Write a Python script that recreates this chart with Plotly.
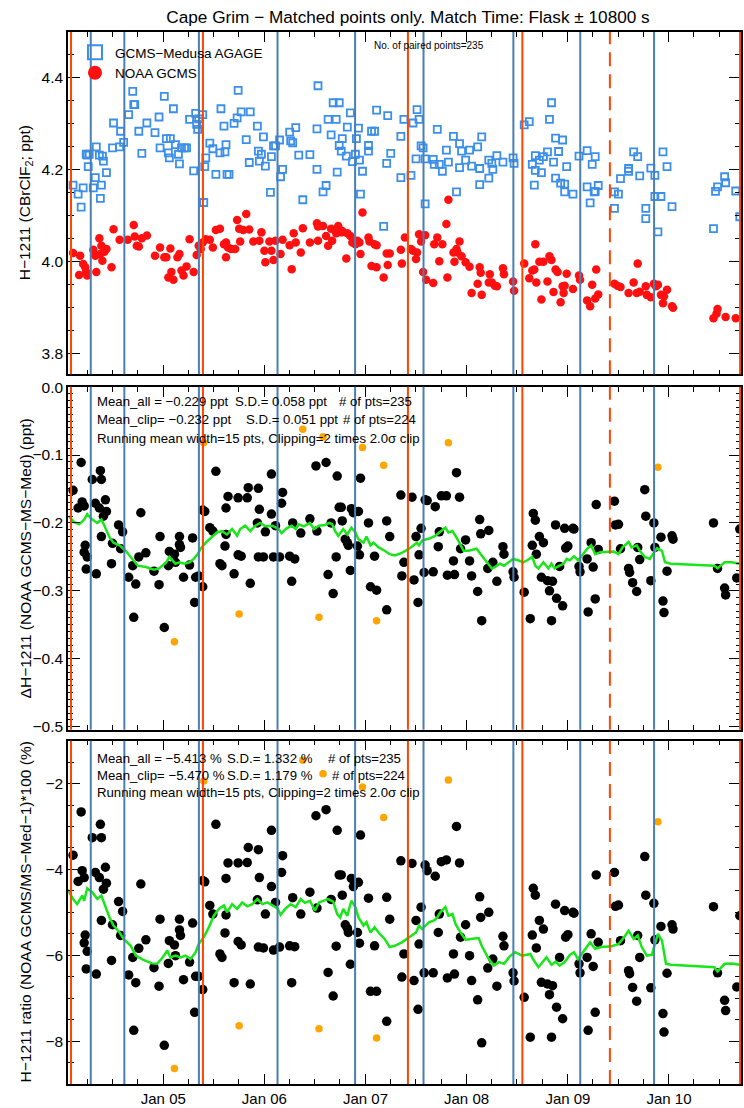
import pandas as pd
import plotly.graph_objects as go
from plotly.subplots import make_subplots

FONT = "Liberation Sans, Arial, Helvetica, sans-serif"

# ---------------- data (decimal years) ----------------
event_dates = [2004.09, 2004.285, 2004.617, 2005.352, 2005.392, 2006.130, 2006.897,
               2007.420, 2007.574, 2008.463, 2008.552, 2009.122, 2009.415, 2009.852, 2010.703]
event_colors = ["#ff4500", "#4a7eb4", "#4a7eb4", "#4a7eb4", "#ff4500", "#4a7eb4", "#4a7eb4",
                "#ff4500", "#4a7eb4", "#4a7eb4", "#ff4500", "#4a7eb4", "#ff4500", "#4a7eb4", "#ff4500"]
event_dash = ["solid"] * 12 + ["14px,8px"] + ["solid"] * 2

agage_dates = [
    2004.11, 2004.16, 2004.21, 2004.19, 2004.24, 2004.25, 2004.27, 2004.26, 2004.31, 2004.33,
    2004.34, 2004.37, 2004.38, 2004.39, 2004.40, 2004.41, 2004.44, 2004.50, 2004.51, 2004.57,
    2004.58, 2004.61, 2004.66, 2004.70, 2004.71, 2004.72, 2004.76, 2004.79, 2004.84, 2004.92,
    2004.96, 2004.97, 2005.01, 2005.03, 2005.07, 2005.05, 2005.06, 2005.10, 2005.12, 2005.15,
    2005.16, 2005.18, 2005.21, 2005.23, 2005.26, 2005.30, 2005.32, 2005.33, 2005.34, 2005.35,
    2005.39, 2005.40, 2005.41, 2005.42, 2005.46, 2005.49, 2005.52, 2005.56, 2005.57, 2005.60,
    2005.61, 2005.62, 2005.63, 2005.65, 2005.70, 2005.73, 2005.74, 2005.77, 2005.82, 2005.85,
    2005.86, 2005.93, 2005.94, 2005.95, 2005.97, 2005.99, 2006.01, 2006.06, 2006.07, 2006.09,
    2006.11, 2006.15, 2006.16, 2006.18, 2006.25, 2006.26, 2006.28, 2006.31, 2006.34,
    2006.38, 2006.45, 2006.52, 2006.52, 2006.53, 2006.58, 2006.61, 2006.63, 2006.66, 2006.68,
    2006.74, 2006.71, 2006.72, 2006.74, 2006.76, 2006.77, 2006.81, 2006.82, 2006.85, 2006.87,
    2006.90, 2006.91, 2006.93, 2006.94, 2006.95, 2006.97, 2007.03, 2007.03, 2007.06, 2007.09,
    2007.11, 2007.18, 2007.21, 2007.22, 2007.25, 2007.35, 2007.35, 2007.38, 2007.45, 2007.47,
    2007.50, 2007.51, 2007.53, 2007.55, 2007.57, 2007.59, 2007.59, 2007.67, 2007.68, 2007.71,
    2007.73, 2007.76, 2007.80, 2007.82, 2007.87, 2007.90, 2007.93, 2007.93, 2007.95, 2007.99,
    2008.03, 2008.05, 2008.11, 2008.13, 2008.13, 2008.15, 2008.22, 2008.22, 2008.25, 2008.26,
    2008.30, 2008.36, 2008.46, 2008.47, 2008.57, 2008.62, 2008.65, 2008.67, 2008.68, 2008.68,
    2008.72, 2008.74, 2008.76, 2008.80, 2008.82, 2008.84, 2008.86, 2008.88, 2008.88, 2008.91,
    2008.93, 2008.95, 2008.97, 2008.97, 2008.99, 2009.05, 2009.11, 2009.19, 2009.19, 2009.22,
    2009.24, 2009.27, 2009.26, 2009.27, 2009.30, 2009.46, 2009.46, 2009.50, 2009.52, 2009.60,
    2009.60, 2009.65, 2009.69, 2009.71, 2009.77, 2009.77, 2009.82, 2009.86, 2009.86, 2009.92,
    2009.89, 2009.94, 2009.98, 2010.03, 2010.44, 2010.46, 2010.48, 2010.55, 2010.56, 2010.66,
    2010.70]
agage_vals = [
    4.167, 4.147, 4.161, 4.119, 4.234, 4.232, 4.234, 4.207, 4.161, 4.183,
    4.250, 4.232, 4.138, 4.167, 4.230, 4.219, 4.194, 4.248, 4.302, 4.250,
    4.284, 4.260, 4.320, 4.371, 4.342, 4.342, 4.284, 4.236, 4.302, 4.281,
    4.315, 4.248, 4.360, 4.268, 4.268, 4.237, 4.226, 4.333, 4.255, 4.234,
    4.213, 4.248, 4.248, 4.248, 4.310, 4.198, 4.323, 4.299, 4.288, 4.311,
    4.320, 4.129, 4.207, 4.226, 4.258, 4.246, 4.190, 4.237, 4.333, 4.295,
    4.239, 4.255, 4.190, 4.190, 4.301, 4.313, 4.373, 4.326, 4.266, 4.216,
    4.326, 4.295, 4.241, 4.219, 4.234, 4.272, 4.208, 4.151, 4.229, 4.252,
    4.252, 4.265, 4.185, 4.201, 4.282, 4.263, 4.259, 4.292, 4.232,
    4.135, 4.233, 4.289, 4.201, 4.383, 4.152, 4.166, 4.310, 4.276, 4.346,
    4.346, 4.310, 4.195, 4.253, 4.241, 4.268, 4.230, 4.293, 4.324, 4.218,
    4.234, 4.268, 4.291, 4.221, 4.147, 4.197, 4.253, 4.241, 4.284, 4.284,
    4.330, 4.077, 4.214, 4.318, 4.236, 4.273, 4.183, 4.310, 4.188, 4.302,
    4.224, 4.331, 4.310, 4.252, 4.248, 4.126, 4.224, 4.223, 4.212, 4.288,
    4.212, 4.197, 4.243, 4.217, 4.273, 4.152, 4.257, 4.205, 4.241, 4.221,
    4.243, 4.208, 4.250, 4.203, 4.168, 4.272, 4.221, 4.182, 4.214, 4.201,
    4.231, 4.217, 4.226, 4.214, 4.298, 4.305, 4.212, 4.167, 4.231, 4.199,
    4.221, 4.194, 4.229, 4.239, 4.310, 4.346, 4.217, 4.269, 4.182, 4.240,
    4.171, 4.265, 4.169, 4.152, 4.207, 4.147, 4.230, 4.163, 4.242, 4.128,
    4.212, 4.229, 4.152, 4.153, 4.166, 4.152, 4.116, 4.147, 4.181, 4.203,
    4.197, 4.239, 4.229, 4.187, 4.116, 4.094, 4.204, 4.188, 4.142, 4.142,
    4.065, 4.239, 4.207, 4.120, 4.072, 4.153, 4.163, 4.185, 4.172, 4.154,
    4.098]

noaa_dates = [
    2004.11, 2004.18, 2004.17, 2004.21, 2004.23, 2004.25, 2004.24, 2004.31, 2004.33, 2004.34,
    2004.37, 2004.38, 2004.39, 2004.40, 2004.42, 2004.44, 2004.49, 2004.51, 2004.57, 2004.65,
    2004.71, 2004.72, 2004.74, 2004.76, 2004.79, 2004.84, 2004.92, 2004.97, 2005.01, 2005.03,
    2005.05, 2005.07, 2005.08, 2005.10, 2005.14, 2005.16, 2005.18, 2005.20, 2005.23, 2005.26,
    2005.30, 2005.33, 2005.35, 2005.37, 2005.39, 2005.42, 2005.46, 2005.49, 2005.52, 2005.56,
    2005.60, 2005.62, 2005.62, 2005.64, 2005.67, 2005.71, 2005.73, 2005.75, 2005.76, 2005.79,
    2005.82, 2005.85, 2005.89, 2005.95, 2005.97, 2006.00, 2006.01, 2006.05, 2006.07, 2006.09,
    2006.11, 2006.16, 2006.18, 2006.25, 2006.27, 2006.29, 2006.31,
    2006.36, 2006.38, 2006.45, 2006.52, 2006.53, 2006.53, 2006.58, 2006.61, 2006.63, 2006.66,
    2006.67, 2006.71, 2006.73, 2006.74, 2006.76, 2006.77, 2006.81, 2006.82, 2006.85, 2006.87,
    2006.90, 2006.92, 2006.94, 2006.95, 2006.97, 2007.03, 2007.04, 2007.06, 2007.09, 2007.11,
    2007.11, 2007.18, 2007.21, 2007.24, 2007.22, 2007.35, 2007.36, 2007.39, 2007.45, 2007.47,
    2007.50, 2007.51, 2007.53, 2007.55, 2007.57, 2007.59, 2007.60, 2007.67, 2007.68, 2007.71,
    2007.73, 2007.76, 2007.80, 2007.81, 2007.82, 2007.87, 2007.88, 2007.90, 2007.91, 2007.93,
    2007.95, 2007.99, 2008.03, 2008.05, 2008.11, 2008.13, 2008.14, 2008.15, 2008.22, 2008.23,
    2008.25, 2008.28, 2008.30, 2008.36, 2008.37, 2008.46, 2008.47, 2008.57, 2008.62, 2008.65,
    2008.67, 2008.68, 2008.69, 2008.72, 2008.74, 2008.76, 2008.80, 2008.82, 2008.84, 2008.86,
    2008.88, 2008.90, 2008.93, 2008.95, 2008.96, 2008.97, 2008.99, 2009.05, 2009.11, 2009.12,
    2009.19, 2009.22, 2009.24, 2009.27, 2009.28, 2009.30, 2009.46, 2009.49, 2009.52, 2009.60,
    2009.65, 2009.69, 2009.68, 2009.71, 2009.77, 2009.78, 2009.82, 2009.85, 2009.87, 2009.89,
    2009.92, 2009.94, 2009.95, 2009.98, 2010.03, 2010.04, 2010.44, 2010.47, 2010.48, 2010.56,
    2010.66]
noaa_vals = [
    4.019, 4.013, 3.971, 3.995, 3.988, 3.970, 3.978, 4.026, 4.013, 3.978,
    4.051, 4.017, 4.035, 4.002, 4.022, 4.028, 3.988, 4.071, 4.048, 4.048,
    4.080, 4.055, 4.035, 4.033, 4.051, 4.057, 4.013, 4.031, 4.010, 4.010,
    3.966, 4.029, 3.978, 3.961, 4.010, 4.017, 3.981, 3.970, 3.990, 4.049,
    3.978, 4.015, 4.035, 4.028, 4.042, 4.049, 4.048, 4.031, 4.069, 4.072,
    4.038, 4.042, 4.010, 4.031, 4.028, 4.028, 4.091, 4.072, 4.044, 4.069,
    4.104, 4.070, 4.044, 4.046, 4.064, 4.024, 3.999, 4.044, 4.024, 4.004,
    4.046, 4.017, 4.048, 4.036, 3.984, 4.062, 4.042,
    4.020, 4.073, 4.042, 4.084, 4.077, 4.046, 4.078, 4.056, 4.035, 4.072,
    4.046, 4.062, 4.078, 4.070, 4.064, 4.067, 4.007, 4.062, 4.056, 4.042,
    4.038, 4.046, 4.042, 4.017, 4.107, 4.053, 4.044, 3.991, 4.038, 4.036,
    3.988, 3.966, 4.018, 4.018, 3.993, 4.026, 3.996, 4.053, 4.028, 4.024,
    4.006, 4.020, 4.060, 4.044, 3.978, 4.058, 3.961, 3.954, 4.038, 4.053,
    4.001, 4.038, 4.082, 3.966, 4.135, 4.020, 4.000, 4.028, 4.020, 4.044,
    4.012, 3.999, 3.989, 3.932, 3.952, 3.988, 3.976, 3.928, 3.955, 3.973,
    3.955, 3.948, 3.947, 3.986, 3.973, 3.957, 3.937, 3.996, 3.964, 3.981,
    3.983, 4.038, 3.955, 4.000, 3.918, 4.000, 3.957, 4.012, 4.004, 3.934,
    3.983, 3.978, 3.912, 3.947, 3.932, 3.948, 3.974, 3.941, 3.970, 3.961,
    3.916, 3.903, 3.950, 3.920, 3.983, 3.929, 3.952, 3.948, 3.945, 3.932,
    3.955, 3.996, 3.932, 3.935, 3.947, 3.928, 3.923, 3.952, 3.947, 3.950,
    3.928, 3.910, 3.925, 3.939, 3.903, 3.900, 3.877, 3.887, 3.897, 3.880,
    3.877]

pair_dates = [
    2004.11, 2004.19, 2004.16, 2004.20, 2004.22, 2004.23, 2004.22, 2004.25, 2004.24, 2004.30,
    2004.33, 2004.38, 2004.39, 2004.37, 2004.41, 2004.43, 2004.44, 2004.39, 2004.34, 2004.50,
    2004.49, 2004.56, 2004.58, 2004.60, 2004.66, 2004.70, 2004.73, 2004.71, 2004.76, 2004.78,
    2004.83, 2004.91, 2004.97, 2004.96, 2005.01, 2005.05, 2005.06, 2005.11, 2005.12, 2005.16,
    2005.16, 2005.17, 2005.20, 2005.26, 2005.29, 2005.32, 2005.31, 2005.35, 2005.39, 2005.39,
    2005.41, 2005.46, 2005.49, 2005.52, 2005.56, 2005.58, 2005.61, 2005.62, 2005.62, 2005.64,
    2005.70, 2005.74, 2005.74, 2005.77, 2005.83, 2005.84, 2005.86, 2005.94, 2005.94, 2005.95,
    2005.93, 2005.99, 2006.01, 2006.07, 2006.07, 2006.09, 2006.11, 2006.15, 2006.17, 2006.18,
    2006.25, 2006.28, 2006.30, 2006.27, 2006.36, 2006.45, 2006.51, 2006.52, 2006.61, 2006.63,
    2006.66, 2006.68, 2006.71, 2006.72, 2006.74, 2006.76, 2006.77, 2006.80, 2006.82, 2006.83,
    2006.85, 2006.86, 2006.88, 2006.92, 2006.94, 2006.95, 2006.93, 2007.03, 2007.05, 2007.09,
    2007.11, 2007.21, 2007.21, 2007.24, 2007.35, 2007.38, 2007.36,
    2007.46, 2007.50, 2007.53, 2007.55, 2007.52, 2007.48, 2007.58, 2007.59, 2007.61, 2007.67,
    2007.69, 2007.72, 2007.73, 2007.75, 2007.80, 2007.81, 2007.87, 2007.88, 2007.90, 2007.93,
    2007.94, 2007.99, 2008.03, 2008.05, 2008.11, 2008.13, 2008.14, 2008.15, 2008.22, 2008.21,
    2008.26, 2008.30, 2008.36, 2008.37, 2008.46, 2008.47, 2008.57, 2008.63, 2008.65, 2008.66,
    2008.68, 2008.69, 2008.72, 2008.74, 2008.76, 2008.80, 2008.82, 2008.84, 2008.85, 2008.88,
    2008.89, 2008.92, 2008.95, 2008.97, 2008.98, 2009.00, 2009.05, 2009.06, 2009.11, 2009.12,
    2009.19, 2009.20, 2009.23, 2009.25, 2009.27, 2009.28, 2009.30, 2009.46, 2009.47, 2009.50,
    2009.52, 2009.60, 2009.61, 2009.64, 2009.68, 2009.69, 2009.71, 2009.76, 2009.77, 2009.82,
    2009.85, 2009.86, 2009.92, 2009.94, 2009.95, 2009.98, 2010.03, 2010.04, 2010.44, 2010.48,
    2010.55, 2010.56, 2010.67, 2010.70]
diff_vals = [
    -0.152, -0.111, -0.178, -0.169, -0.175, -0.233, -0.243, -0.250, -0.268, -0.136,
    -0.171, -0.123, -0.136, -0.178, -0.190, -0.166, -0.183, -0.220, -0.275, -0.230,
    -0.260, -0.203, -0.238, -0.213, -0.280, -0.263, -0.290, -0.339, -0.250, -0.185,
    -0.244, -0.271, -0.220, -0.291, -0.354, -0.263, -0.242, -0.246, -0.258, -0.220,
    -0.232, -0.236, -0.280, -0.262, -0.222, -0.280, -0.317, -0.278, -0.294, -0.181,
    -0.183, -0.207, -0.212, -0.124, -0.260, -0.263, -0.234, -0.217, -0.178, -0.161,
    -0.275, -0.163, -0.247, -0.249, -0.163, -0.148, -0.289, -0.250, -0.149, -0.180,
    -0.200, -0.250, -0.213, -0.128, -0.187, -0.250, -0.204, -0.250, -0.171, -0.155,
    -0.249, -0.200, -0.253, -0.286, -0.215, -0.194, -0.116, -0.212, -0.111, -0.276,
    -0.200, -0.304, -0.250, -0.131, -0.177, -0.177, -0.197, -0.224, -0.229, -0.233,
    -0.270, -0.179, -0.185, -0.234, -0.247, -0.134, -0.183, -0.200, -0.294, -0.249,
    -0.299, -0.197, -0.328, -0.220, -0.159, -0.258, -0.278,
    -0.162, -0.220, -0.247, -0.208, -0.317, -0.284, -0.273, -0.166, -0.167, -0.272,
    -0.176, -0.235, -0.213, -0.160, -0.160, -0.277, -0.256, -0.276, -0.126, -0.162,
    -0.238, -0.225, -0.256, -0.278, -0.301, -0.195, -0.216, -0.344, -0.211, -0.267,
    -0.258, -0.286, -0.235, -0.246, -0.272, -0.280, -0.302, -0.341, -0.233, -0.186,
    -0.196, -0.246, -0.220, -0.280, -0.229, -0.285, -0.300, -0.344, -0.286, -0.203,
    -0.311, -0.264, -0.322, -0.208, -0.237, -0.234, -0.208, -0.209, -0.264, -0.272,
    -0.253, -0.331, -0.229, -0.265, -0.312, -0.173, -0.239, -0.168, -0.203, -0.202,
    -0.238, -0.267, -0.273, -0.288, -0.301, -0.236, -0.254, -0.151, -0.190, -0.285,
    -0.200, -0.236, -0.221, -0.315, -0.332, -0.271, -0.219, -0.224, -0.200, -0.267,
    -0.296, -0.306, -0.281, -0.209]
ratio_vals = [
    -3.67, -2.66, -4.28, -4.03, -4.19, -5.53, -5.71, -5.91, -6.32, -3.26,
    -4.07, -2.95, -3.26, -4.19, -4.46, -3.95, -4.32, -5.19, -6.44, -5.29,
    -6.12, -4.75, -5.54, -4.98, -6.46, -6.05, -6.64, -7.75, -5.84, -4.34,
    -5.64, -6.29, -5.16, -6.72, -8.10, -6.19, -5.66, -5.76, -6.01, -5.16,
    -5.41, -5.54, -6.57, -6.16, -5.25, -6.49, -7.33, -6.49, -6.80, -4.26,
    -4.29, -4.84, -5.04, -2.95, -5.97, -6.05, -5.48, -5.06, -4.21, -3.85,
    -6.64, -3.85, -5.68, -5.76, -3.84, -3.49, -6.67, -5.81, -3.54, -4.19,
    -4.71, -5.83, -5.04, -3.09, -4.40, -5.88, -4.77, -5.81, -4.07, -3.68,
    -5.78, -4.66, -5.80, -6.64, -5.04, -4.53, -2.75, -4.90, -2.61, -6.40,
    -4.70, -6.95, -5.79, -3.09, -4.13, -4.13, -4.60, -5.29, -5.37, -5.47,
    -6.21, -4.21, -4.40, -5.47, -5.72, -3.20, -4.30, -4.67, -6.84, -5.78,
    -6.84, -4.65, -7.54, -5.16, -3.80, -5.97, -6.51,
    -3.86, -5.19, -5.74, -4.88, -7.26, -6.59, -6.41, -3.90, -4.03, -6.41,
    -4.16, -5.47, -5.04, -3.82, -3.78, -6.53, -5.97, -6.44, -3.00, -3.85,
    -5.58, -5.29, -6.01, -6.59, -7.04, -4.64, -5.12, -8.04, -5.00, -6.30,
    -6.09, -6.72, -5.56, -5.78, -6.41, -6.60, -6.98, -7.91, -5.53, -4.44,
    -4.60, -5.83, -5.19, -6.63, -5.39, -6.67, -6.92, -7.91, -6.71, -4.81,
    -7.21, -6.05, -7.48, -4.96, -5.58, -5.52, -5.00, -5.02, -6.20, -6.41,
    -6.05, -7.75, -5.50, -6.26, -7.33, -4.13, -5.70, -4.07, -4.86, -4.83,
    -5.66, -6.36, -6.43, -6.75, -7.07, -5.54, -6.05, -3.70, -4.60, -6.76,
    -4.79, -5.64, -5.33, -7.36, -7.79, -6.42, -5.29, -5.39, -4.87, -6.41,
    -7.05, -7.29, -6.74, -5.08]

clip_dates = [2005.11, 2005.40, 2005.75, 2006.38, 2006.54, 2006.58, 2006.97, 2007.11,
              2007.18, 2007.82, 2009.89]
clip_diff = [-0.375, -0.082, -0.334, -0.062, -0.339, -0.073, -0.089, -0.344, -0.115, -0.082, -0.118]
clip_ratio = [-8.64, -1.94, -7.64, -1.46, -7.71, -1.77, -2.08, -7.93, -2.79, -1.92, -2.89]

run_diff_dates = [
    2004.07, 2004.12, 2004.17, 2004.22, 2004.25, 2004.30, 2004.35, 2004.39, 2004.42, 2004.47,
    2004.51, 2004.57, 2004.63, 2004.70, 2004.75, 2004.83, 2004.91, 2004.96, 2005.03, 2005.06,
    2005.12, 2005.16, 2005.21, 2005.26, 2005.30, 2005.34, 2005.37, 2005.42, 2005.48, 2005.53,
    2005.58, 2005.63, 2005.68, 2005.73, 2005.76, 2005.81, 2005.86, 2005.91, 2005.96, 2006.01,
    2006.08, 2006.14, 2006.17, 2006.22, 2006.27, 2006.31, 2006.34, 2006.39, 2006.45, 2006.49,
    2006.54, 2006.60, 2006.64, 2006.67, 2006.70, 2006.73, 2006.78, 2006.82, 2006.86, 2006.90,
    2006.93, 2006.98, 2007.01, 2007.05, 2007.08, 2007.13, 2007.19, 2007.24, 2007.29, 2007.36,
    2007.43, 2007.48, 2007.51, 2007.53, 2007.56, 2007.63, 2007.69, 2007.74, 2007.79, 2007.82,
    2007.86, 2007.91, 2007.94, 2007.97, 2008.02, 2008.10, 2008.14, 2008.20, 2008.25, 2008.28,
    2008.33, 2008.37, 2008.41, 2008.46, 2008.51, 2008.56, 2008.60, 2008.65, 2008.68, 2008.71,
    2008.76, 2008.81, 2008.84, 2008.87, 2008.92, 2008.96, 2008.99, 2009.02, 2009.06, 2009.10,
    2009.14, 2009.19, 2009.23, 2009.27, 2009.32, 2009.40, 2009.45, 2009.50, 2009.54, 2009.60,
    2009.63, 2009.68, 2009.71, 2009.76, 2009.81, 2009.84, 2009.88, 2009.93, 2009.96, 2010.02,
    2010.45, 2010.48, 2010.55, 2010.62, 2010.70]
run_diff = [
    -0.190, -0.199, -0.202, -0.195, -0.187, -0.195, -0.200, -0.195, -0.204, -0.221,
    -0.229, -0.233, -0.241, -0.253, -0.263, -0.265, -0.269, -0.267, -0.258, -0.250,
    -0.260, -0.258, -0.260, -0.258, -0.253, -0.246, -0.238, -0.229, -0.220, -0.214,
    -0.212, -0.217, -0.209, -0.219, -0.209, -0.204, -0.212, -0.204, -0.200, -0.205,
    -0.204, -0.209, -0.215, -0.208, -0.204, -0.209, -0.202, -0.205, -0.200, -0.209,
    -0.204, -0.203, -0.200, -0.202, -0.212, -0.219, -0.209, -0.217, -0.207, -0.214,
    -0.224, -0.229, -0.220, -0.233, -0.229, -0.236, -0.241, -0.246, -0.248, -0.244,
    -0.238, -0.233, -0.229, -0.233, -0.226, -0.223, -0.219, -0.213, -0.207, -0.214,
    -0.212, -0.224, -0.233, -0.241, -0.241, -0.238, -0.246, -0.258, -0.267, -0.265,
    -0.260, -0.263, -0.258, -0.253, -0.255, -0.258, -0.255, -0.250, -0.263, -0.267,
    -0.258, -0.267, -0.260, -0.267, -0.263, -0.260, -0.253, -0.255, -0.249, -0.255,
    -0.248, -0.238, -0.233, -0.246, -0.243, -0.243, -0.242, -0.246, -0.236, -0.228,
    -0.236, -0.233, -0.241, -0.250, -0.253, -0.246, -0.237, -0.241, -0.258, -0.260,
    -0.263, -0.267, -0.258, -0.258, -0.260]

run_ratio_dates = [
    2004.06, 2004.11, 2004.15, 2004.20, 2004.22, 2004.25, 2004.30, 2004.35, 2004.39, 2004.42,
    2004.47, 2004.51, 2004.57, 2004.61, 2004.68, 2004.73, 2004.80, 2004.89, 2004.94, 2004.99,
    2005.04, 2005.07, 2005.12, 2005.17, 2005.22, 2005.27, 2005.32, 2005.35, 2005.40, 2005.45,
    2005.50, 2005.55, 2005.60, 2005.63, 2005.68, 2005.73, 2005.78, 2005.83, 2005.88, 2005.93,
    2005.98, 2006.03, 2006.08, 2006.13, 2006.16, 2006.21, 2006.26, 2006.31, 2006.36, 2006.40,
    2006.45, 2006.50, 2006.54, 2006.59, 2006.63, 2006.68, 2006.72, 2006.75, 2006.78, 2006.82,
    2006.86, 2006.90, 2006.93, 2006.98, 2007.01, 2007.05, 2007.09, 2007.14, 2007.19, 2007.24,
    2007.29, 2007.36, 2007.41, 2007.45, 2007.50, 2007.53, 2007.56, 2007.63, 2007.68, 2007.71,
    2007.74, 2007.79, 2007.82, 2007.86, 2007.89, 2007.94, 2007.99, 2008.04, 2008.12, 2008.15,
    2008.22, 2008.27, 2008.32, 2008.37, 2008.43, 2008.48, 2008.55, 2008.63, 2008.66, 2008.71,
    2008.79, 2008.84, 2008.88, 2008.92, 2008.97, 2009.02, 2009.06, 2009.10, 2009.15, 2009.22,
    2009.27, 2009.33, 2009.43, 2009.50, 2009.55, 2009.60, 2009.65, 2009.69, 2009.73, 2009.78,
    2009.83, 2009.86, 2009.89, 2009.93, 2009.97, 2010.02, 2010.45, 2010.48, 2010.55, 2010.62,
    2010.70]
run_ratio = [
    -4.47, -4.69, -4.81, -4.61, -4.73, -4.44, -4.53, -4.69, -4.61, -4.81,
    -5.12, -5.31, -5.47, -5.62, -5.78, -6.01, -6.10, -6.19, -6.20, -6.07,
    -5.89, -6.05, -6.01, -6.05, -6.01, -6.09, -5.93, -5.74, -5.58, -5.35,
    -5.08, -4.92, -4.84, -5.00, -4.81, -4.92, -4.77, -4.86, -4.81, -4.69,
    -4.81, -4.77, -4.84, -4.91, -5.06, -4.91, -4.81, -4.88, -4.69, -4.78,
    -4.73, -4.96, -4.77, -4.73, -4.69, -4.75, -5.04, -5.12, -4.92, -5.08,
    -4.73, -4.88, -5.12, -5.31, -5.23, -5.47, -5.35, -5.50, -5.62, -5.81,
    -5.78, -5.70, -5.62, -5.54, -5.47, -5.31, -5.39, -5.23, -5.19, -5.12,
    -5.00, -4.88, -5.08, -5.04, -5.27, -5.47, -5.64, -5.62, -5.60, -5.78,
    -6.09, -6.24, -6.16, -6.20, -6.02, -5.93, -6.01, -5.97, -6.10, -6.28,
    -6.05, -6.22, -6.15, -6.24, -6.16, -5.99, -5.93, -6.09, -5.93, -5.70,
    -5.85, -5.81, -5.79, -5.74, -5.60, -5.43, -5.62, -5.54, -5.81, -6.01,
    -5.99, -5.74, -5.50, -5.66, -6.20, -6.22, -6.28, -6.38, -6.20, -6.19,
    -6.22]

x_range = [2004.060, 2010.712]
y1_range = [3.755, 4.5]
y2_range = [-0.5045, 0.0005]
y3_range = [-9.0, -1.0]

stats_diff = [["Mean_all = \u22120.229 ppt", "S.D.= 0.058 ppt", "# of pts=235"],
              ["Mean_clip= \u22120.232 ppt", "S.D.= 0.051 ppt", "# of pts=224"],
              ["Running mean width=15 pts, Clipping=2 times 2.0\u03c3 clip"]]
stats_ratio = [["Mean_all = \u22125.413 %", "S.D.= 1.332 %", "# of pts=235"],
               ["Mean_clip= \u22125.470 %", "S.D.= 1.179 %", "# of pts=224"],
               ["Running mean width=15 pts, Clipping=2 times 2.0\u03c3 clip"]]


def to_dt(years):
    out = []
    for y in years:
        yi = int(y)
        out.append(pd.Timestamp(yi, 1, 1) + pd.Timedelta(days=(y - yi) * 365.25))
    return out


BLUE_SQ = "#3b8fea"
RED = "#ff1010"
ORANGE = "#ffa500"
GREEN = "#19e619"

fig = make_subplots(rows=3, cols=1)

fig.add_trace(go.Scatter(x=to_dt(agage_dates), y=agage_vals, mode="markers", showlegend=False,
                         marker=dict(symbol="square-open", size=7, color=BLUE_SQ, line=dict(width=1.8, color=BLUE_SQ))),
              row=1, col=1)
fig.add_trace(go.Scatter(x=to_dt(noaa_dates), y=noaa_vals, mode="markers", showlegend=False,
                         marker=dict(symbol="circle", size=8.5, color=RED)), row=1, col=1)
# legend entries
fig.add_trace(go.Scatter(x=[None], y=[None], mode="markers", name="GCMS\u2212Medusa AGAGE",
                         marker=dict(symbol="square-open", size=14, color=BLUE_SQ, line=dict(width=2, color=BLUE_SQ))),
              row=1, col=1)
fig.add_trace(go.Scatter(x=[None], y=[None], mode="markers", name="NOAA GCMS",
                         marker=dict(symbol="circle", size=14, color=RED)), row=1, col=1)

for r, vals, cvals, rdates, rvals in [(2, diff_vals, clip_diff, run_diff_dates, run_diff),
                                       (3, ratio_vals, clip_ratio, run_ratio_dates, run_ratio)]:
    fig.add_trace(go.Scatter(x=to_dt(pair_dates), y=vals, mode="markers", showlegend=False,
                             marker=dict(symbol="circle", size=9.5, color="black")), row=r, col=1)
    fig.add_trace(go.Scatter(x=to_dt(clip_dates), y=cvals, mode="markers", showlegend=False,
                             marker=dict(symbol="circle", size=7.5, color=ORANGE)), row=r, col=1)
    fig.add_trace(go.Scatter(x=to_dt(rdates), y=rvals, mode="lines", showlegend=False,
                             line=dict(color=GREEN, width=2.5)), row=r, col=1)

# vertical event lines
for r in (1, 2, 3):
    sx = "" if r == 1 else str(r)
    for d, c, ds in zip(to_dt(event_dates), event_colors, event_dash):
        fig.add_shape(type="line", xref="x" + sx, yref="y" + sx + " domain", x0=d, x1=d, y0=0, y1=1,
                      line=dict(color=c, width=2, dash=ds), layer="above")

# ---------------- layout ----------------
W, H = 744, 1108
L, R, T, B = 68, 1, 32, 19
pw, ph = W - L - R, H - T - B


def xfrac(wx):  # window px -> paper fraction
    return (wx - L) / pw


def yfrac(wy):
    return (H - B - wy) / ph


domains = [[yfrac(376), 1.0], [yfrac(733), yfrac(388.5)], [0.0, yfrac(744)]]

common = dict(showline=True, linecolor="black", linewidth=1.5, mirror="allticks", ticks="inside",
              tickcolor="black", showgrid=False, zeroline=False)
xr = to_dt(x_range)
for i in range(3):
    key = "xaxis" if i == 0 else f"xaxis{i+1}"
    fig.layout[key].update(type="date", range=xr, dtick="M12", tick0="2005-01-01", ticklen=10, tickwidth=1.2,
                           tickformat="%b %y", showticklabels=(i == 2), domain=[0, 1],
                           tickfont=dict(size=15), **common,
                           minor=dict(dtick="M3", ticks="inside", ticklen=5, tickcolor="black", tickwidth=1,
                                      showgrid=False))
fig.layout.yaxis.update(domain=domains[0], range=y1_range, dtick=0.2, tick0=0, tickformat=".1f", ticklen=12,
                        tickwidth=1.2, tickfont=dict(size=15.5), **common,
                        minor=dict(dtick=0.05, ticks="inside", ticklen=6, tickcolor="black", showgrid=False))
fig.layout.yaxis2.update(domain=domains[1], range=y2_range, dtick=0.1, tick0=0, tickformat=".1f", ticklen=12,
                         tickwidth=1.2, tickfont=dict(size=15.5), **common,
                         minor=dict(dtick=0.01, ticks="inside", ticklen=5, tickcolor="black", showgrid=False))
fig.layout.yaxis3.update(domain=domains[2], range=y3_range, dtick=2, tick0=0, ticklen=12,
                         tickwidth=1.2, tickfont=dict(size=15.5), **common,
                         minor=dict(dtick=0.5, ticks="inside", ticklen=6, tickcolor="black", showgrid=False))

ann = []
ytitles = ["H\u22121211 (CBrClF<sub>2</sub>; ppt)", "\u0394H\u22121211 (NOAA GCMS\u2212MS\u2212Med) (ppt)",
           "H\u22121211 ratio (NOAA GCMS/MS\u2212Med\u22121)*100 (%)"]
for i, t in enumerate(ytitles):
    yk = "y" if i == 0 else f"y{i+1}"
    ann.append(dict(text=t, textangle=-90, xref="paper", x=xfrac(25), xanchor="center", yref=yk + " domain",
                    y=0.5, yanchor="middle", showarrow=False, font=dict(size=15.5)))

ann.append(dict(text="No. of paired points=235", xref="paper", x=xfrac(430), xanchor="center",
                yref="y domain", y=(376 - 45.5) / 344, yanchor="middle", showarrow=False, font=dict(size=10)))

col_x_diff = [[95, 233, 338], [95, 245, 342], [95]]
col_x_ratio = [[95, 225, 327], [95, 225, 331], [95]]
rows_y_diff = [403, 421.5, 440]
rows_y_ratio = [761.5, 779, 796]
for yk, stats, cols, rows, top, bot in [("y2", stats_diff, col_x_diff, rows_y_diff, 388.5, 733),
                                        ("y3", stats_ratio, col_x_ratio, rows_y_ratio, 744, 1089)]:
    for line, xs, py in zip(stats, cols, rows):
        for txt, px in zip(line, xs):
            ann.append(dict(text=txt, xref="paper", x=xfrac(px), xanchor="left", yref=yk + " domain",
                            y=(bot - py) / (bot - top), yanchor="middle", showarrow=False,
                            font=dict(size=13.2)))

fig.update_layout(
    width=W, height=H, margin=dict(l=L, r=R, t=T, b=B),
    paper_bgcolor="white", plot_bgcolor="white",
    font=dict(family=FONT, size=15, color="black"),
    title=dict(text="Cape Grim \u2212 Matched points only. Match Time: Flask \u00b1 10800 s",
               x=408 / W, xanchor="center", y=1 - 17 / H, yanchor="middle",
               font=dict(size=17.2)),
    legend=dict(x=xfrac(75), y=yfrac(37), xanchor="left", yanchor="top", bgcolor="rgba(0,0,0,0)",
                font=dict(size=13.5), tracegroupgap=0, itemwidth=30),
    annotations=ann,
)

# remove the default 8 px page margin so the 744x1108 figure fills the window exactly
fig.write_html("out.html",
               config={"displayModeBar": False},
               post_script="document.body.style.margin='0';document.body.style.padding='0';"
                           "document.documentElement.style.overflow='hidden';")
